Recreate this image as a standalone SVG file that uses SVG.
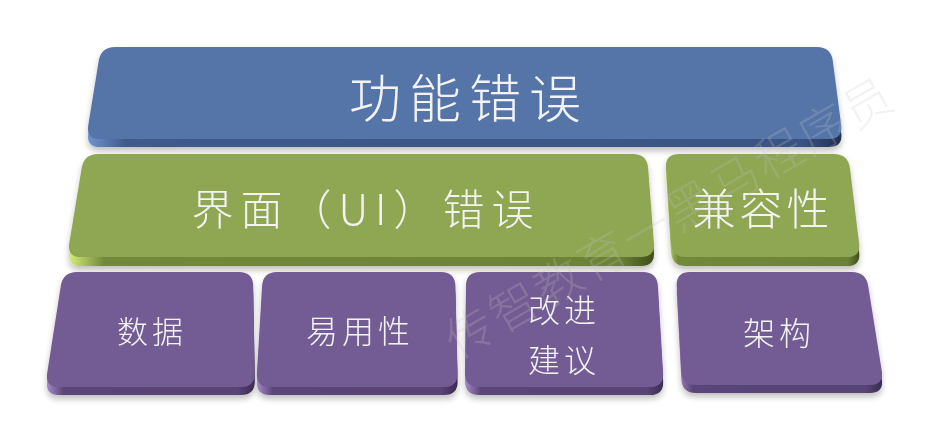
<svg xmlns="http://www.w3.org/2000/svg" width="936" height="448" viewBox="0 0 936 448">
  <defs>
    <filter id="sh" x="-10%" y="-10%" width="120%" height="130%">
      <feGaussianBlur in="SourceAlpha" stdDeviation="3"/>
      <feOffset dy="4" result="b"/>
      <feComponentTransfer><feFuncA type="linear" slope="0.25"/></feComponentTransfer>
      <feMerge><feMergeNode/><feMergeNode in="SourceGraphic"/></feMerge>
    </filter>
    <linearGradient id="blueSide" x1="0" y1="0" x2="1" y2="0">
      <stop offset="0" stop-color="#6f93cf"/>
      <stop offset="0.05" stop-color="#3f5a8e"/>
      <stop offset="0.95" stop-color="#3a5284"/>
      <stop offset="1" stop-color="#1f2e4c"/>
    </linearGradient>
    <linearGradient id="greenSide" x1="0" y1="0" x2="1" y2="0">
      <stop offset="0" stop-color="#d4ec7a"/>
      <stop offset="0.06" stop-color="#72893a"/>
      <stop offset="0.94" stop-color="#6c8236"/>
      <stop offset="1" stop-color="#3f4e1c"/>
    </linearGradient>
    <linearGradient id="purpleSide" x1="0" y1="0" x2="1" y2="0">
      <stop offset="0" stop-color="#a489c9"/>
      <stop offset="0.08" stop-color="#5a4678"/>
      <stop offset="0.92" stop-color="#574474"/>
      <stop offset="1" stop-color="#3a2b50"/>
    </linearGradient>
  </defs>
  <style>
    .lbl { font-family: "Noto Sans CJK SC", "Noto Sans", sans-serif; fill: #f3f3f3; text-anchor: middle; dominant-baseline: central; font-weight: 300; }
    .blue { fill: #5574a8; }
    .green { fill: #8fa653; }
    .purple { fill: #735b93; }
    .bside { fill: url(#blueSide); }
    .gside { fill: url(#greenSide); }
    .pside { fill: url(#purpleSide); }
    .wm { font-family: "Noto Sans CJK SC", sans-serif; fill: #c9c9c9; opacity: 0.22; font-size: 48px; font-weight: 300; }
  </style>
  <rect width="936" height="448" fill="#ffffff"/>

  <g id="node-functional" filter="url(#sh)">
    <path class="bside" transform="translate(0,8)" d="M115,47 L817,47 Q831,47 832.8,61 L841.2,125 Q843,139 829,139 L100,139 Q86,139 88.3,125 L98.7,61 Q101,47 115,47 Z"/>
    <path class="blue" d="M115,47 L817,47 Q831,47 832.8,61 L841.2,125 Q843,139 829,139 L100,139 Q86,139 88.3,125 L98.7,61 Q101,47 115,47 Z"/>
    <text class="lbl" x="469" y="95" font-size="52" letter-spacing="8">功能错误</text>
  </g>

  <g id="node-ui" filter="url(#sh)">
    <path class="gside" transform="translate(0,9)" d="M98,154 L633,154 Q647,154 648.1,168 L653.9,243 Q655,257 641,257 L81,257 Q67,257 69.3,243 L81.7,168 Q84,154 98,154 Z"/>
    <path class="green" d="M98,154 L633,154 Q647,154 648.1,168 L653.9,243 Q655,257 641,257 L81,257 Q67,257 69.3,243 L81.7,168 Q84,154 98,154 Z"/>
    <text class="lbl" x="366" y="206" font-size="42" letter-spacing="7">界面（UI）错误</text>
  </g>

  <g id="node-compat" filter="url(#sh)">
    <path class="gside" transform="translate(0,9)" d="M679,154 L834,154 Q848,154 849.9,168 L859.1,243 Q861,257 847,257 L686,257 Q672,257 671,243 L666,168 Q665,154 679,154 Z"/>
    <path class="green" d="M679,154 L834,154 Q848,154 849.9,168 L859.1,243 Q861,257 847,257 L686,257 Q672,257 671,243 L666,168 Q665,154 679,154 Z"/>
    <text class="lbl" x="763" y="206" font-size="43" letter-spacing="4">兼容性</text>
  </g>

  <g id="node-data" filter="url(#sh)">
    <path class="pside" transform="translate(0,8)" d="M77,272 L239,272 Q253,272 253.2,286 L254.8,373 Q255,387 241,387 L59,387 Q45,387 47.2,373 L60.8,286 Q63,272 77,272 Z"/>
    <path class="purple" d="M77,272 L239,272 Q253,272 253.2,286 L254.8,373 Q255,387 241,387 L59,387 Q45,387 47.2,373 L60.8,286 Q63,272 77,272 Z"/>
    <text class="lbl" x="152" y="329" font-size="31" letter-spacing="4">数据</text>
  </g>

  <g id="node-usability" filter="url(#sh)">
    <path class="pside" transform="translate(0,8)" d="M277,272 L441,272 Q455,272 455.4,286 L457.6,373 Q458,387 444,387 L270,387 Q256,387 256.9,373 L262.1,286 Q263,272 277,272 Z"/>
    <path class="purple" d="M277,272 L441,272 Q455,272 455.4,286 L457.6,373 Q458,387 444,387 L270,387 Q256,387 256.9,373 L262.1,286 Q263,272 277,272 Z"/>
    <text class="lbl" x="360" y="329" font-size="32" letter-spacing="4">易用性</text>
  </g>

  <g id="node-suggest" filter="url(#sh)">
    <path class="pside" transform="translate(0,8)" d="M480,272 L643,272 Q657,272 657.9,286 L663.1,373 Q664,387 650,387 L479,387 Q465,387 465,373 L466,286 Q466,272 480,272 Z"/>
    <path class="purple" d="M480,272 L643,272 Q657,272 657.9,286 L663.1,373 Q664,387 650,387 L479,387 Q465,387 465,373 L466,286 Q466,272 480,272 Z"/>
    <text class="lbl" x="564" y="308" font-size="32" letter-spacing="4">改进</text>
    <text class="lbl" x="564" y="358" font-size="32" letter-spacing="4">建议</text>
  </g>

  <g id="node-arch" filter="url(#sh)">
    <path class="pside" transform="translate(0,8)" d="M690,272 L852,272 Q866,272 868.2,286 L881.8,371 Q884,385 870,385 L696,385 Q682,385 681.3,371 L676.7,286 Q676,272 690,272 Z"/>
    <path class="purple" d="M690,272 L852,272 Q866,272 868.2,286 L881.8,371 Q884,385 870,385 L696,385 Q682,385 681.3,371 L676.7,286 Q676,272 690,272 Z"/>
    <text class="lbl" x="779" y="331" font-size="32" letter-spacing="4">架构</text>
  </g>

  <g id="connectors"></g>

  <text class="wm" x="668" y="214" text-anchor="middle" dominant-baseline="central" letter-spacing="3" transform="rotate(-30 668 214)">传智教育一黑马程序员</text>
</svg>
